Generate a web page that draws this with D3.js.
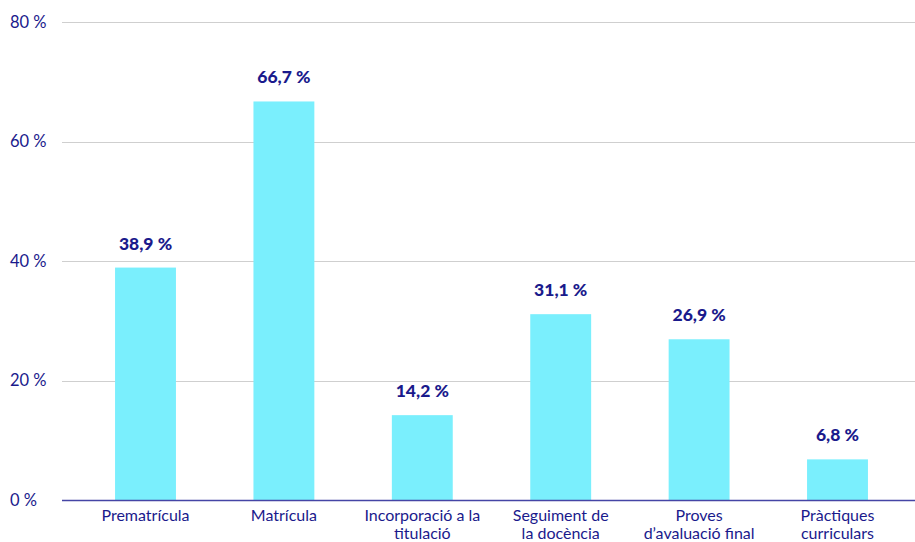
<!DOCTYPE html>
<meta charset="utf-8">
<style>
html, body {
  margin: 0;
  background: #fff;
}
svg {
  display: block;
  font-family: Lato, "Open Sans", sans-serif;
}
.grid line {
  stroke: #cfcfcf;
  stroke-width: 1px;
}
.ylab, .xlab, .val {
  fill: #1a1a8c;
}
.val {
  font-weight: 900;
}
</style>
<svg class="chart"></svg>
<script src="https://d3js.org/d3.v7.min.js"></script>
<script>

var categories = [
  ['Prematrícula'],
  ['Matrícula'],
  ['Incorporació a la', 'titulació'],
  ['Seguiment de', 'la docència'],
  ['Proves', 'd\u2019avaluació final'],
  ['Pràctiques', 'curriculars']
];
var values = [38.9, 66.7, 14.2, 31.1, 26.9, 6.8];
var yTicks = [0, 20, 40, 60, 80];

var width = 915;
var height = 542;

var svg = d3.select('svg.chart')
  .attr('width', width)
  .attr('height', height);

var y = d3.scaleLinear()
  .domain([0, 80])
  .range([500, 22]);

var x = d3.scaleBand()
  .domain(d3.range(categories.length))
  .range([76.3, 906.7])
  .paddingInner(0.56)
  .paddingOuter(0.28);

var fmt = function (v) { return v.toFixed(1).replace('.', ',') + ' %'; };

// gridlines
svg.append('g')
    .attr('class', 'grid')
  .selectAll('line')
  .data(yTicks.filter(function (d) { return d > 0; }))
  .enter().append('line')
    .attr('x1', 62)
    .attr('x2', width)
    .attr('y1', function (d) { return Math.round(y(d)) + 0.5; })
    .attr('y2', function (d) { return Math.round(y(d)) + 0.5; });

svg.append('g')
  .selectAll('text')
  .data(yTicks)
  .enter().append('text')
    .attr('class', 'ylab')
    .attr('x', 10)
    .attr('y', function (d) { return y(d); })
    .attr('dy', '0.36em')
    .style('font-size', '16.5px')
    .text(function (d) { return d + ' %'; });

// bars
svg.append('g')
  .selectAll('rect')
  .data(values)
  .enter().append('rect')
    .attr('x', function (d, i) { return x(i); })
    .attr('y', function (d) { return y(d); })
    .attr('width', x.bandwidth())
    .attr('height', function (d) { return y(0) - y(d); })
    .attr('fill', '#7aeffd');

// value labels
svg.append('g')
  .selectAll('text')
  .data(values)
  .enter().append('text')
    .attr('class', 'val')
    .attr('x', function (d, i) { return x(i) + x.bandwidth() / 2; })
    .attr('y', function (d) { return y(d) - 18; })
    .attr('text-anchor', 'middle')
    .style('font-size', '17.5px')
    .text(fmt);

// baseline
svg.append('line')
  .attr('x1', 62)
  .attr('x2', width)
  .attr('y1', 500.5)
  .attr('y2', 500.5)
  .attr('stroke', '#4545a5')
  .attr('stroke-width', 1.5);

// category labels
var xl = svg.append('g')
  .selectAll('text')
  .data(categories)
  .enter().append('text')
    .attr('class', 'xlab')
    .attr('text-anchor', 'middle')
    .style('font-size', '16px');

xl.selectAll('tspan')
  .data(function (d, i) { return d.map(function (t) { return {t: t, i: i}; }); })
  .enter().append('tspan')
    .attr('x', function (d) { return x(d.i) + x.bandwidth() / 2; })
    .attr('y', function (d, j) { return 521 + j * 17.5; })
    .text(function (d) { return d.t; });

</script>
